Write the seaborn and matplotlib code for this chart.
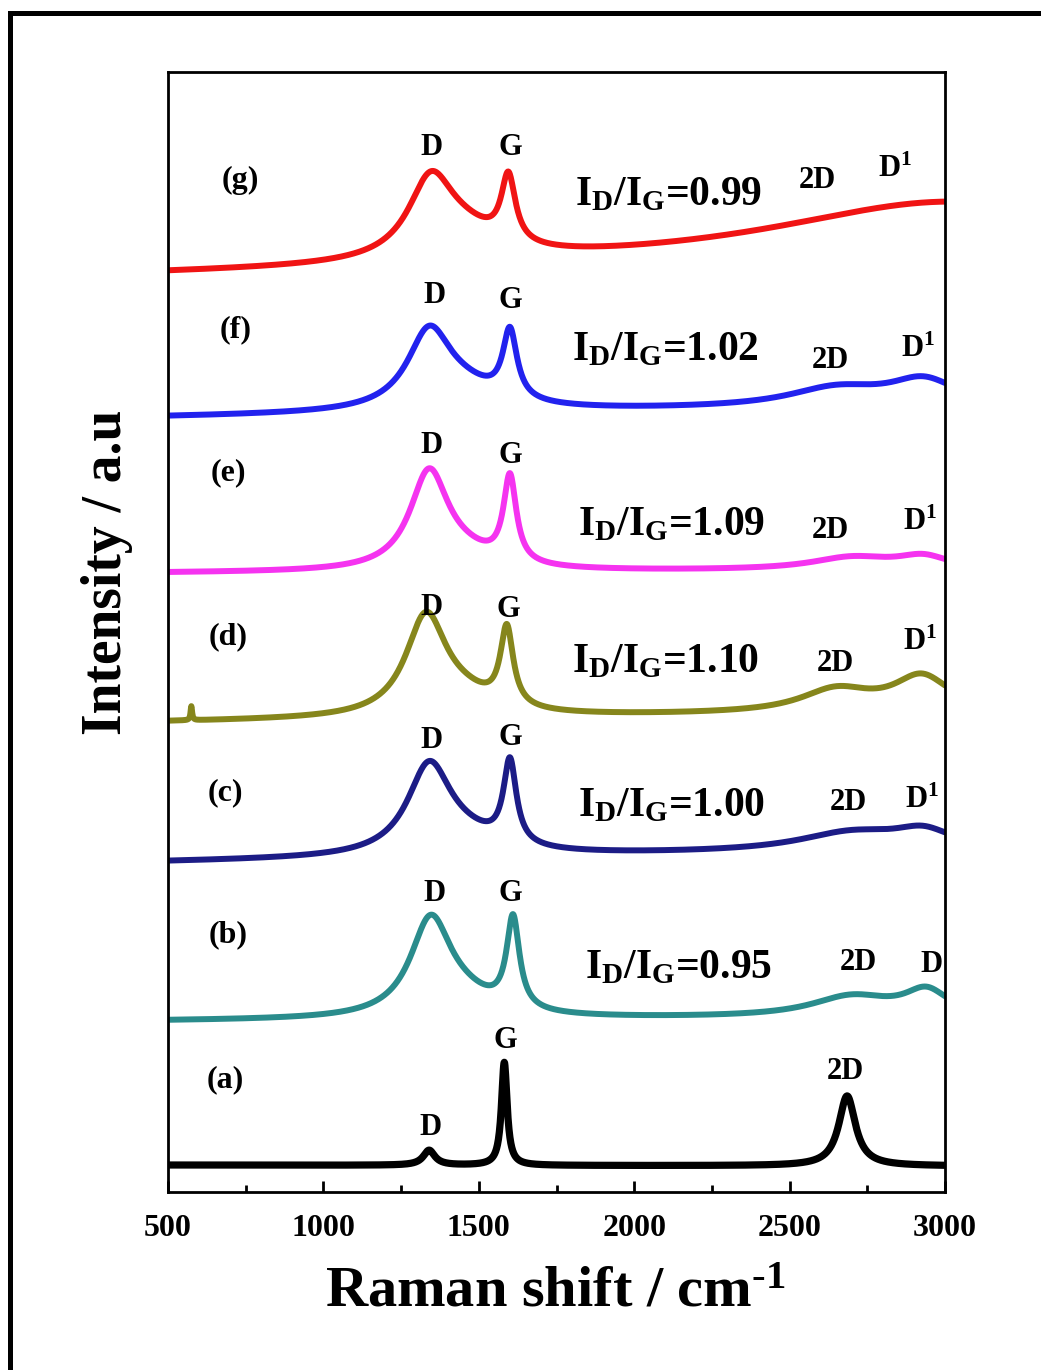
import numpy as np
import pandas as pd
import matplotlib
matplotlib.use("Agg")
import matplotlib.pyplot as plt
import seaborn as sns
from matplotlib.ticker import MultipleLocator
from matplotlib.patches import Rectangle

# samples, bottom to top
SAMPLES = ["(a)", "(b)", "(c)", "(d)", "(e)", "(f)", "(g)"]
COLORS = ["#000000", "#2a8c8c", "#1c1c86", "#86861c", "#f533f0", "#2222ee", "#f01414"]
RATIOS = [None, "0.95", "1.00", "1.10", "1.09", "1.02", "0.99"]

# linear background (offset stacking included) at 500 and 3000 cm-1
BASE_START = [27, 171, 330, 470, 619, 775, 916]
BASE_END = [26, 175, 342, 480, 622, 786, 930]

# bands: (centre cm-1, height, fwhm)
PEAKS_A = [(1340, 15, 45), (1582, 103, 22), (2685, 70, 65)]
PEAKS_B = [(1345, 95, 160), (1610, 91, 50), (1450, 15, 250), (2700, 20, 320), (2940, 24, 170)]
PEAKS_C = [(1340, 86, 170), (1600, 83, 50), (1450, 15, 300), (2700, 18, 420), (2930, 16, 220)]
PEAKS_D = [(575, 14, 6), (1330, 98, 160), (1590, 78, 50), (1450, 15, 250), (2650, 22, 280), (2925, 34, 220)]
PEAKS_E = [(1340, 96, 150), (1600, 86, 50), (1450, 12, 250), (2700, 12, 320), (2930, 12, 200)]
PEAKS_F = [(1340, 74, 170), (1600, 68, 55), (1450, 19, 300), (2650, 18, 380), (2930, 24, 260)]
PEAKS_G = [(1345, 74, 175), (1595, 66, 55), (1450, 24, 300), (3000, 60, 1400)]
PEAKS = [PEAKS_A, PEAKS_B, PEAKS_C, PEAKS_D, PEAKS_E, PEAKS_F, PEAKS_G]


def _lorentz(x, c, h, w):
    return h / (1.0 + ((x - c) / (w / 2.0)) ** 2)


def _spectrum(x, b0, b1, peaks):
    y = b0 + (b1 - b0) * (x - 500.0) / 2500.0
    for c, h, w in peaks:
        y = y + _lorentz(x, c, h, w)
    return y


shift = np.linspace(500, 3000, 2501)
frames = []
for s, b0, b1, pk in zip(SAMPLES, BASE_START, BASE_END, PEAKS):
    frames.append(pd.DataFrame({"shift": shift, "intensity": _spectrum(shift, b0, b1, pk), "sample": s}))
df = pd.concat(frames, ignore_index=True)

sns.set_style("ticks")
plt.rcParams.update({
    "font.family": ["Liberation Serif", "DejaVu Serif"],
    "font.weight": "bold",
    "text.color": "black",
    "axes.labelcolor": "black",
    "xtick.color": "black",
    "ytick.color": "black",
    "mathtext.fontset": "custom",
    "mathtext.rm": "Liberation Serif:bold",
    "mathtext.it": "Liberation Serif:bold",
    "mathtext.bf": "Liberation Serif:bold",
})

fig = plt.figure(figsize=(10.41, 13.70), dpi=100)
ax = fig.add_axes([0.1614, 0.1299, 0.7464, 0.8175])

for s, col in zip(SAMPLES, COLORS):
    sub = df[df["sample"] == s]
    sns.lineplot(data=sub, x="shift", y="intensity", color=col, lw=5.2 if s == "(a)" else 4.3,
                 estimator=None, sort=False, legend=False, ax=ax)

ax.set_xlim(500, 3000)
ax.set_ylim(0, 1120)
ax.set_yticks([])
ax.xaxis.set_major_locator(MultipleLocator(500))
ax.xaxis.set_minor_locator(MultipleLocator(250))
ax.tick_params(axis="x", which="major", direction="in", length=8, width=2, labelsize=23, pad=16)
ax.tick_params(axis="x", which="minor", direction="in", length=5, width=2)
for sp in ax.spines.values():
    sp.set_linewidth(2)
    sp.set_color("black")

ax.set_xlabel(r"Raman shift / cm$^{\text{-}1}$", fontsize=42, fontweight="bold")
ax.xaxis.label.set_va("center")
ax.xaxis.set_label_coords(0.498, -0.090)
ax.set_ylabel("Intensity / a.u", fontsize=40, fontweight="bold")
ax.yaxis.label.set_va("center")
ax.yaxis.set_label_coords(-0.0785, 0.5536)

# sample letters and band labels (x in cm-1, y in plot units)
LETTER_XY = [(683, 112), (693, 257), (683, 399), (693, 555), (693, 719), (719, 862), (732, 1012)]
for s, (lx, ly) in zip(SAMPLES, LETTER_XY):
    ax.text(lx, ly, s, fontsize=23, ha="center", va="center")

BAND_LABELS = [
    ("D", 1343, 65), ("G", 1584, 152), ("2D", 2678, 121),
    ("D", 1359, 299), ("G", 1600, 299), ("2D", 2720, 230), ("D", 2958, 228),
    ("D", 1349, 452), ("G", 1600, 455), ("2D", 2688, 390), (r"D$^{1}$", 2926, 392),
    ("D", 1349, 585), ("G", 1594, 583), ("2D", 2646, 529), (r"D$^{1}$", 2920, 550),
    ("D", 1349, 747), ("G", 1600, 737), ("2D", 2630, 662), (r"D$^{1}$", 2920, 670),
    ("D", 1359, 897), ("G", 1600, 892), ("2D", 2630, 832), (r"D$^{1}$", 2913, 843),
    ("D", 1349, 1045), ("G", 1600, 1045), ("2D", 2588, 1012), (r"D$^{1}$", 2839, 1023),
]
for t, bx, by in BAND_LABELS:
    ax.text(bx, by, t, fontsize=22, ha="center", va="center")

RATIO_XY = [None, (1842, 224), (1819, 386), (1800, 530), (1819, 667), (1800, 842), (1810, 997)]
for r, xy in zip(RATIOS, RATIO_XY):
    if r is None:
        continue
    ax.text(xy[0], xy[1], r"$\mathrm{I_D/I_G}$=" + r, fontsize=30, ha="left", va="center")

# outer frame of the picture
fig.patches.append(Rectangle((9.5 / 1041, -0.1), 1.2, (1370 - 13) / 1370 + 0.1, transform=fig.transFigure,
                             fill=False, lw=3.6, ec="black"))

fig.savefig("out.png", dpi=100)
